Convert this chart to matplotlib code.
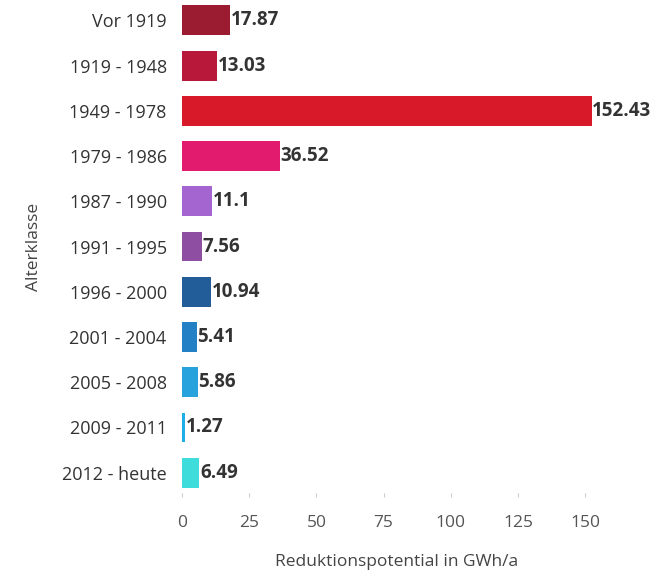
import matplotlib
matplotlib.use("Agg")
import matplotlib.pyplot as plt

categories = ["Vor 1919", "1919 - 1948", "1949 - 1978", "1979 - 1986", "1987 - 1990",
              "1991 - 1995", "1996 - 2000", "2001 - 2004", "2005 - 2008", "2009 - 2011",
              "2012 - heute"]
values = [17.87, 13.03, 152.43, 36.52, 11.1, 7.56, 10.94, 5.41, 5.86, 1.27, 6.49]
value_labels = ["17.87", "13.03", "152.43", "36.52", "11.1", "7.56", "10.94", "5.41",
                "5.86", "1.27", "6.49"]
colors = ["#9B1B30", "#B8193A", "#D7192A", "#E21B6E", "#A565D0", "#8E4FA3",
          "#225C99", "#2480C4", "#27A2DC", "#1EAEE8", "#3FDCDC"]
xticks = [0, 25, 50, 75, 100, 125, 150]

plt.rcParams['font.family'] = ['Open Sans', 'DejaVu Sans']
text_color = "#333333"

fig = plt.figure(figsize=(6.69, 5.76), dpi=100)
ax = fig.add_axes([0.272, 0.144, 0.643, 0.856])

y = list(range(len(categories)))
ax.barh(y, values, height=0.66, color=colors)
for yi, v, lab in zip(y, values, value_labels):
    ax.text(v + 0.2, yi, lab, va="center", ha="left", fontsize=13.5,
            fontweight="bold", color=text_color)

ax.set_ylim(10.45, -0.45)
ax.set_xlim(0, 160)
ax.set_yticks(y)
ax.set_yticklabels(categories, fontsize=13, color=text_color)
ax.set_xticks(xticks)
ax.set_xticklabels([str(t) for t in xticks], fontsize=12.5, color="#555555")
ax.tick_params(axis="y", length=0, pad=11)
ax.tick_params(axis="x", length=3, color="#cccccc", pad=13, direction="out")
for s in ax.spines.values():
    s.set_visible(False)
ax.set_xlabel("Reduktionspotential in GWh/a", fontsize=12.5, color="#444444", labelpad=16)
ax.set_ylabel("Alterklasse", fontsize=12.5, color="#444444", labelpad=14)

fig.savefig("out.png", dpi=100, facecolor="white")
